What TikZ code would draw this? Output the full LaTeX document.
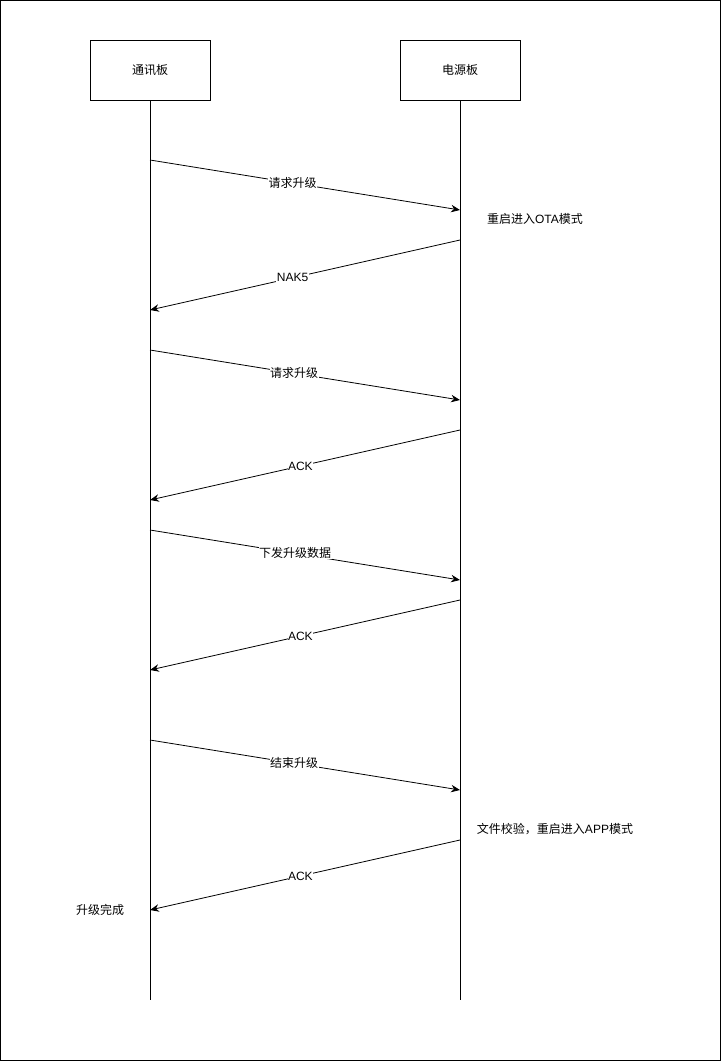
\documentclass[tikz,border=0pt]{standalone}
\usepackage{fontspec}
\setmainfont{Liberation Sans}
\newfontfamily\cjk{Noto Sans CJK SC}
\usetikzlibrary{arrows.meta}
\begin{document}
\begin{tikzpicture}[x=1pt,y=-1pt,
  every node/.style={font=\fontsize{12}{14}\selectfont},
  actor/.style={draw,line width=0.8pt,minimum width=120pt,minimum height=60pt,inner sep=0pt},
  life/.style={line width=0.8pt},
  msg/.style={line width=0.8pt,-{Stealth[length=9pt,width=7.5pt,inset=3pt]}},
  lbl/.style={fill=white,inner sep=0.5pt},
  note/.style={inner sep=1pt}]
\draw[line width=0.8pt] (0.5,0.5) rectangle (720.5,1060.5);
\useasboundingbox (0,0) rectangle (721,1061);
\node[actor] (A) at (150,70) {\cjk 通讯板};
\node[actor] (B) at (460,70) {\cjk 电源板};
\coordinate (Aend) at (150,1000);
\coordinate (Bend) at (460,1000);
\draw[life] (A.south) -- (Aend);
\draw[life] (B.south) -- (Bend);
% message end points
\coordinate (a1) at (150,160); \coordinate (b1) at (460,210);
\coordinate (b2) at (460,240); \coordinate (a2) at (150,310);
\coordinate (a3) at (150,350); \coordinate (b3) at (460,400);
\coordinate (b4) at (460,430); \coordinate (a4) at (150,500);
\coordinate (a5) at (150,530); \coordinate (b5) at (460,580);
\coordinate (b6) at (460,600); \coordinate (a6) at (150,670);
\coordinate (a7) at (150,740); \coordinate (b7) at (460,790);
\coordinate (b8) at (460,840); \coordinate (a8) at (150,910);
\draw[msg] (a1) -- node[lbl,pos=0.46] (l1) {\cjk 请求升级} (b1);
\draw[msg] (b2) -- node[lbl,pos=0.54] (l2) {NAK5} (a2);
\draw[msg] (a3) -- node[lbl,pos=0.465] (l3) {\cjk 请求升级} (b3);
\draw[msg] (b4) -- node[lbl,pos=0.515] (l4) {ACK} (a4);
\draw[msg] (a5) -- node[lbl,pos=0.468] (l5) {\cjk 下发升级数据} (b5);
\draw[msg] (b6) -- node[lbl,pos=0.515] (l6) {ACK} (a6);
\draw[msg] (a7) -- node[lbl,pos=0.465] (l7) {\cjk 结束升级} (b7);
\draw[msg] (b8) -- node[lbl,pos=0.515] (l8) {ACK} (a8);
\node[note] (n1) at (535,219) {{\cjk 重启进入}OTA{\cjk 模式}};
\node[note] (n2) at (555,829) {{\cjk 文件校验，重启进入}APP{\cjk 模式}};
\node[note] (n3) at (100,910) {\cjk 升级完成};
\end{tikzpicture}
\end{document}
